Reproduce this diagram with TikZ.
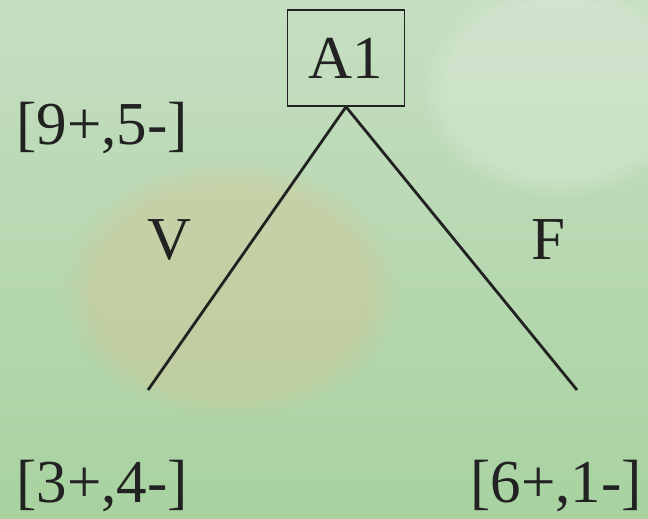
\documentclass[tikz,border=0pt]{standalone}
\usepackage{fontspec}
\setmainfont{Liberation Serif}
\newfontfamily\timesface{Liberation Serif}
\usetikzlibrary{positioning,fadings}
\definecolor{sagetop}{RGB}{198,222,194}
\definecolor{sagebot}{RGB}{168,210,160}
\definecolor{tanblob}{RGB}{214,196,146}
\definecolor{inkgray}{RGB}{34,34,34}

\begin{document}
\begin{tikzpicture}[x=1pt,y=1pt,
  lbl/.style={font=\timesface\fontsize{61}{61}\selectfont,text=inkgray,inner sep=0pt},
  attr/.style={lbl,draw=inkgray,line width=1.6pt,minimum width=117pt,minimum height=96pt},
  branch/.style={draw=inkgray,line width=2.8pt}]
\useasboundingbox (0,0) rectangle (648,-519);
% background
\shade[top color=sagetop,bottom color=sagebot] (0,0) rectangle (648,-519);
\fill[tanblob,opacity=0.4,path fading=circle with fuzzy edge 20 percent] (230,-290) ellipse (170 and 130);
\fill[white,opacity=0.2,path fading=circle with fuzzy edge 20 percent] (560,-90) ellipse (140 and 110);
% tree
\node[attr] (a1) at (346,-58) {A1};
\coordinate (vend) at (148,-390);
\coordinate (fend) at (577,-390);
\draw[branch] (a1.south) -- (vend);
\draw[branch] (a1.south) -- (fend);
\node[lbl] (root) at (102,-128) {[9+,5-]};
\node[lbl] (v) at (170,-240) {V};
\node[lbl] (f) at (548,-240) {F};
\node[lbl] (leftleaf) at (102,-486) {[3+,4-]};
\node[lbl] (rightleaf) at (556,-486) {[6+,1-]};
\end{tikzpicture}
\end{document}
